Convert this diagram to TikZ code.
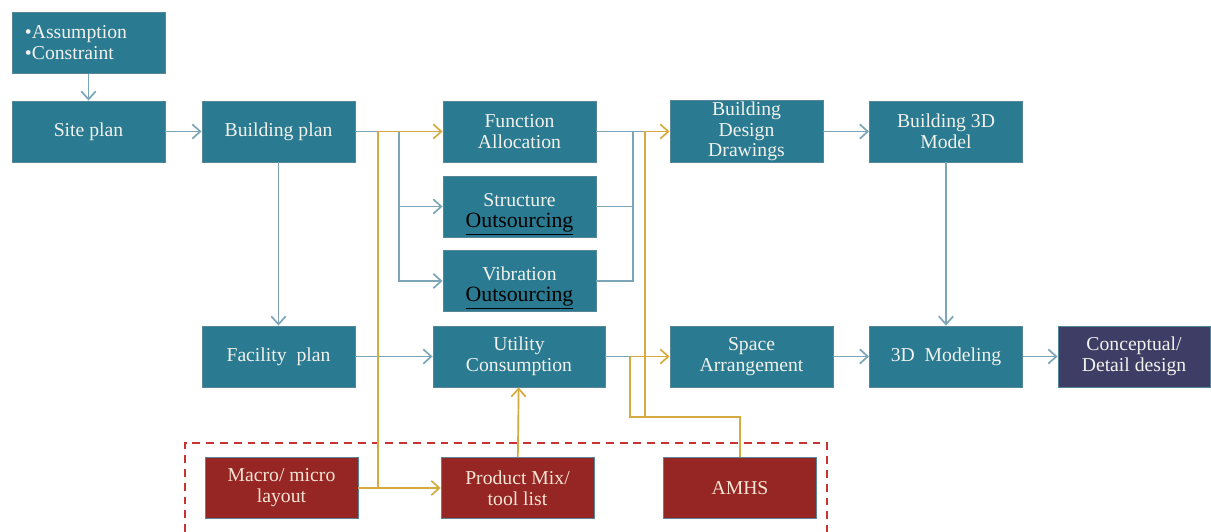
\documentclass[tikz,border=0pt]{standalone}
\usepackage{fontspec}
\setmainfont{Liberation Serif}
\usetikzlibrary{arrows.meta,positioning,calc}
\definecolor{tealbox}{RGB}{42,122,145}
\definecolor{tealedge}{RGB}{86,134,152}
\definecolor{darkred}{RGB}{150,38,36}
\definecolor{navybox}{RGB}{62,61,101}
\definecolor{lineblue}{RGB}{124,166,184}
\definecolor{goldline}{RGB}{214,170,62}
\definecolor{dashred}{RGB}{200,52,48}
\definecolor{boxtext}{RGB}{242,242,236}
\definecolor{redtext}{RGB}{246,228,212}
\newcommand{\outsrc}{{\fontsize{15.5}{15.5}\selectfont\color{black}\underline{Outsourcing}}}

\begin{document}
\begin{tikzpicture}[x=0.025cm,y=-0.025cm,
    box/.style={fill=tealbox, draw=tealedge, line width=0.6pt, minimum width=3.825cm,
        minimum height=1.525cm, align=center, text=boxtext, inner sep=1pt,
        font=\fontsize{14}{15}\selectfont},
    redbox/.style={box, fill=darkred, text=redtext},
    navy/.style={box, fill=navybox},
    bline/.style={draw=lineblue, line width=1.2pt},
    flow/.style={bline, -{Straight Barb[length=2mm,width=3.6mm]}},
    gline/.style={draw=goldline, line width=1.2pt},
    goldflow/.style={gline, -{Straight Barb[length=2mm,width=3.6mm]}}]
    \useasboundingbox (0,0) rectangle (1211,532);

    % Top row
    \node[box, align=left, text width=3.175cm] (assum) at (88.5,43) {\textbullet Assumption\\\textbullet Constraint};
    \node[box] (site) at (88.5,131.5) {Site plan};
    \node[box] (bplan) at (278.5,131.5) {Building plan};
    \node[box] (func) at (519.5,131.5) {Function\\Allocation};
    \node[box] (struct) at (519.5,206.5) {\rule{0pt}{20pt}Structure\\\outsrc};
    \node[box] (vib) at (519.5,281) {\rule{0pt}{20pt}Vibration\\\outsrc};
    \node[box, font=\fontsize{14}{14.5}\selectfont] (bdd) at (746.5,131.5) {Building\\Design\\Drawings};
    \node[box] (b3d) at (946,131.5) {Building 3D\\Model};

    % Bottom row
    \node[box] (fac) at (278.5,356.5) {Facility\ \ plan};
    \node[box, minimum width=4.3cm] (util) at (519,356.5) {Utility\\Consumption};
    \node[box, minimum width=4.075cm] (space) at (751.5,356.5) {Space\\Arrangement};
    \node[box] (model) at (946,356.5) {3D\ \ Modeling};
    \node[navy, minimum width=3.8cm] (concept) at (1134,356.5) {Conceptual/\\Detail design};

    % Inputs
    \node[redbox] (macro) at (281.5,488) {Macro/ micro\\layout};
    \node[redbox] (mix) at (517.5,488) {Product Mix/\\tool list};
    \node[redbox] (amhs) at (740,488) {AMHS};
    \draw[dashred, line width=1.4pt, dash pattern=on 5.6pt off 4.2pt]
        (185,532) -- (185,443) -- (827,443) -- (827,532);

    % Junctions
    \coordinate (bsplit) at (399,131.5);
    \coordinate (fmerge) at (633,131.5);
    \coordinate (gfa) at (378,131.5);
    \coordinate (gml) at (378,488);
    \coordinate (gbd) at (645,131.5);
    \coordinate (gsp) at (630,356.5);
    \coordinate (gbar) at (630,417);

    % Blue connectors
    \draw[flow] (assum) -- (site);
    \draw[flow] (site) -- (bplan);
    \draw[flow] (bplan) -- (fac);
    \draw[bline] (bplan.east) -- (bsplit);
    \draw[flow] (bsplit) |- (struct.west);
    \draw[flow] (bsplit) |- (vib.west);
    \draw[bline] (func.east) -- (gbd);
    \draw[bline] (fmerge) |- (vib.east);
    \draw[bline] (struct.east) -- (struct.east -| fmerge);
    \draw[flow] (fac) -- (util);
    \draw[bline] (util.east) -- (gsp);
    \draw[flow] (bdd) -- (b3d);
    \draw[flow] (b3d) -- (model);
    \draw[flow] (space) -- (model);
    \draw[flow] (model) -- (concept);

    % Gold connectors
    \draw[gline] (macro.east) -- (gml) -- (gfa);
    \draw[goldflow] (gfa) -- (func.west);
    \draw[goldflow] (gml) -- (mix.west);
    \draw[goldflow] (mix) -- (util);
    \draw[gline] (amhs.north) |- (gbar) -- (gsp);
    \draw[goldflow] (gsp) -- (space.west);
    \draw[gline] (gbd |- gbar) -- (gbd);
    \draw[goldflow] (gbd) -- (bdd.west);
\end{tikzpicture}
\end{document}
